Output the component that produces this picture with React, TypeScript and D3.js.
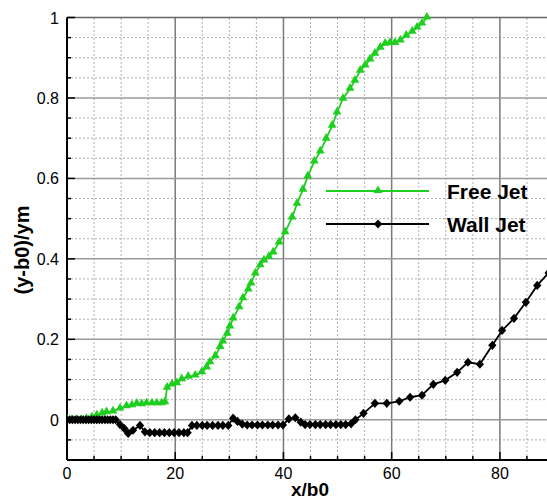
import React from "react";
import * as d3 from "d3";

// Free jet trajectory (x/b0, (y-b0)/ym)
const freeJetX = [0, 0.9, 1.8, 2.7, 3.6, 4.6, 5.5, 6.5, 7.3, 8.5, 9.8, 11, 12, 12.9, 13.8, 14.7, 15.7, 16.6, 17.5, 18.1, 18.5, 19.4, 20.3, 21.2, 22.4, 23.7, 24.9, 25.8, 26.4, 27.4, 28.3, 28.8, 29.6, 30.1, 30.7, 31.8, 32.5, 33.5, 34, 34.8, 35.7, 36.4, 37.3, 38.1, 39.2, 40.3, 41.6, 42.5, 43.6, 44.5, 45.7, 46.8, 47.9, 49, 49.9, 51, 52.3, 53.2, 54.2, 55.1, 56, 56.9, 57.9, 58.8, 59.7, 60.6, 61.6, 62.7, 63.8, 64.7, 65.6, 66.5];
const freeJetY = [0, 0, 0, 0, 0.002, 0.006, 0.011, 0.016, 0.019, 0.021, 0.028, 0.034, 0.036, 0.04, 0.039, 0.041, 0.041, 0.041, 0.041, 0.044, 0.08, 0.088, 0.091, 0.101, 0.107, 0.11, 0.118, 0.13, 0.143, 0.158, 0.181, 0.195, 0.214, 0.232, 0.252, 0.28, 0.302, 0.324, 0.339, 0.364, 0.384, 0.396, 0.405, 0.416, 0.441, 0.466, 0.503, 0.537, 0.572, 0.605, 0.642, 0.667, 0.699, 0.731, 0.764, 0.798, 0.823, 0.843, 0.868, 0.881, 0.896, 0.91, 0.925, 0.935, 0.937, 0.937, 0.943, 0.955, 0.965, 0.975, 0.985, 1.0];

// Wall jet trajectory (x/b0, (y-b0)/ym)
const wallJetX = [0, 0.5, 1, 1.5, 2, 2.5, 3, 3.5, 4, 4.5, 5, 5.5, 6, 6.5, 7, 7.5, 8, 8.5, 9, 9.8, 10.6, 11.3, 12.2, 13.5, 14.4, 15.3, 16.2, 17.1, 18, 18.9, 19.8, 20.7, 21.6, 22.3, 23.1, 24, 25, 25.9, 26.9, 27.9, 28.8, 29.8, 30.7, 31.5, 32.4, 33.3, 34.2, 35.2, 36.1, 37.1, 38, 39, 39.9, 41, 42.2, 43.2, 44, 44.9, 45.9, 46.8, 47.8, 48.7, 49.7, 50.6, 51.5, 52.5, 53.3, 54.8, 56.9, 59.1, 61.4, 63.4, 65.6, 67.7, 69.9, 72.1, 74.1, 76.3, 78.6, 80.4, 82.6, 84.8, 86.9, 89, 91];
const wallJetY = [0, 0, 0, 0, 0, 0, 0, 0, 0, 0, 0, 0, 0, 0, 0, 0, 0, 0, 0, -0.012, -0.022, -0.034, -0.026, -0.014, -0.03, -0.032, -0.032, -0.032, -0.032, -0.032, -0.032, -0.032, -0.032, -0.032, -0.014, -0.014, -0.014, -0.014, -0.014, -0.014, -0.014, -0.014, 0.004, -0.004, -0.011, -0.013, -0.013, -0.013, -0.013, -0.013, -0.013, -0.013, -0.013, 0.002, 0.005, -0.006, -0.012, -0.012, -0.012, -0.012, -0.012, -0.012, -0.012, -0.012, -0.012, -0.01, 0.0, 0.016, 0.041, 0.041, 0.046, 0.056, 0.061, 0.088, 0.098, 0.118, 0.143, 0.138, 0.185, 0.222, 0.252, 0.292, 0.334, 0.365, 0.4];

const xTicks = [0, 20, 40, 60, 80];
const yTicks = [0, 0.2, 0.4, 0.6, 0.8, 1];
const yTickLabels = ["0", "0.2", "0.4", "0.6", "0.8", "1"];
const seriesNames = ["Free Jet", "Wall Jet"];

const W = 547;
const H = 500;
const GREEN = "#1fcf1f";

export default function App() {
  const x = d3.scaleLinear().domain([0, 90]).range([67, 554]);
  const y = d3.scaleLinear().domain([-0.1, 1]).range([460, 17.5]);

  const minorX = d3.range(5, 91, 5).filter((v) => v % 20 !== 0);
  const minorY = d3.range(-0.05, 1.0, 0.05).filter((v) => Math.abs((v / 0.2) - Math.round(v / 0.2)) > 1e-6);
  const majorX = [20, 40, 60, 80];
  const majorY = [0, 0.2, 0.4, 0.6, 0.8];

  const free = freeJetX.map((v, i) => [v, freeJetY[i]] as [number, number]);
  const wall = wallJetX.map((v, i) => [v, wallJetY[i]] as [number, number]);
  const line = d3.line<[number, number]>().x((d) => x(d[0])).y((d) => y(d[1]));

  const tri = d3.symbol().type(d3.symbolTriangle).size(34)()!;
  const dia = (cx: number, cy: number, r: number) =>
    `M${cx},${cy - r}L${cx + r * 0.9},${cy}L${cx},${cy + r}L${cx - r * 0.9},${cy}Z`;

  const font = "Liberation Sans, Arial, Helvetica, sans-serif";

  return (
    <svg width={W} height={H} style={{ position: "absolute", left: 0, top: 0, background: "#fff" }}>
      <defs>
        <clipPath id="plot">
          <rect x={x(0)} y={y(1) - 6} width={W - x(0)} height={y(-0.1) - y(1) + 6} />
        </clipPath>
      </defs>
      {/* minor grid */}
      {minorX.map((v) => (
        <line key={"mx" + v} x1={x(v)} x2={x(v)} y1={y(-0.1)} y2={y(1)} stroke="#b0b0b0" strokeWidth={1} strokeDasharray="2,2" />
      ))}
      {minorY.map((v) => (
        <line key={"my" + v} x1={x(0)} x2={W} y1={y(v)} y2={y(v)} stroke="#b0b0b0" strokeWidth={1} strokeDasharray="2,2" />
      ))}
      {/* major grid */}
      {majorX.map((v) => (
        <line key={"Mx" + v} x1={x(v)} x2={x(v)} y1={y(-0.1)} y2={y(1)} stroke="#7a7a7a" strokeWidth={1.5} />
      ))}
      {majorY.map((v) => (
        <line key={"My" + v} x1={x(0)} x2={W} y1={y(v)} y2={y(v)} stroke="#9a9a9a" strokeWidth={1.5} />
      ))}
      {/* top frame */}
      <line x1={x(0)} x2={W} y1={y(1)} y2={y(1)} stroke="#666" strokeWidth={1.5} />

      {/* axis ticks */}
      {d3.range(0, 91, 5).map((v) => (
        <line key={"tx" + v} x1={x(v)} x2={x(v)} y1={y(-0.1)} y2={y(-0.1) - (v % 20 === 0 ? 8 : 4)} stroke="#000" strokeWidth={1.5} />
      ))}
      {d3.range(-0.1, 1.0001, 0.05).map((v, i) => (
        <line key={"ty" + i} x1={x(0)} x2={x(0) + (i % 4 === 2 ? 8 : 4)} y1={y(v)} y2={y(v)} stroke="#000" strokeWidth={1.5} />
      ))}

      {/* axes */}
      <line x1={x(0)} x2={W} y1={y(-0.1)} y2={y(-0.1)} stroke="#000" strokeWidth={2} />
      <line x1={x(0)} x2={x(0)} y1={y(-0.1)} y2={y(1)} stroke="#000" strokeWidth={2} />

      {/* series */}
      <g clipPath="url(#plot)">
        <path d={line(free)!} fill="none" stroke={GREEN} strokeWidth={1.8} />
        {free.map((d, i) => (
          <path key={"f" + i} d={tri} transform={`translate(${x(d[0])},${y(d[1]) - 0.5})`} fill={GREEN} />
        ))}
        <path d={line(wall)!} fill="none" stroke="#000" strokeWidth={1.8} />
        {wall.map((d, i) => (
          <path key={"w" + i} d={dia(x(d[0]), y(d[1]), 4.6)} fill="#000" />
        ))}
      </g>

      {/* tick labels */}
      {xTicks.map((v) => (
        <text key={"lx" + v} x={x(v)} y={479} textAnchor="middle" fontFamily={font} fontSize={16} fill="#000">
          {v}
        </text>
      ))}
      {yTicks.map((v, i) => (
        <text key={"ly" + v} x={59} y={y(v) + 6} textAnchor="end" fontFamily={font} fontSize={16} fill="#000">
          {yTickLabels[i]}
        </text>
      ))}

      {/* axis titles */}
      <text x={310} y={496} textAnchor="middle" fontFamily={font} fontSize={19} fontWeight="bold" fill="#000">
        x/b0
      </text>
      <text transform="translate(29,250) rotate(-90)" textAnchor="middle" fontFamily={font} fontSize={20} fontWeight="bold" fill="#000">
        (y-b0)/ym
      </text>

      {/* legend */}
      <line x1={326} x2={429} y1={191} y2={191} stroke={GREEN} strokeWidth={1.8} />
      <path d={tri} transform="translate(378,190.5)" fill={GREEN} />
      <text x={447} y={199} fontFamily={font} fontSize={21} fontWeight="bold" fill="#000">
        {seriesNames[0]}
      </text>
      <line x1={326} x2={429} y1={224} y2={224} stroke="#000" strokeWidth={1.8} />
      <path d={dia(378, 224, 4.6)} fill="#000" />
      <text x={447} y={232} fontFamily={font} fontSize={21} fontWeight="bold" fill="#000">
        {seriesNames[1]}
      </text>
    </svg>
  );
}
